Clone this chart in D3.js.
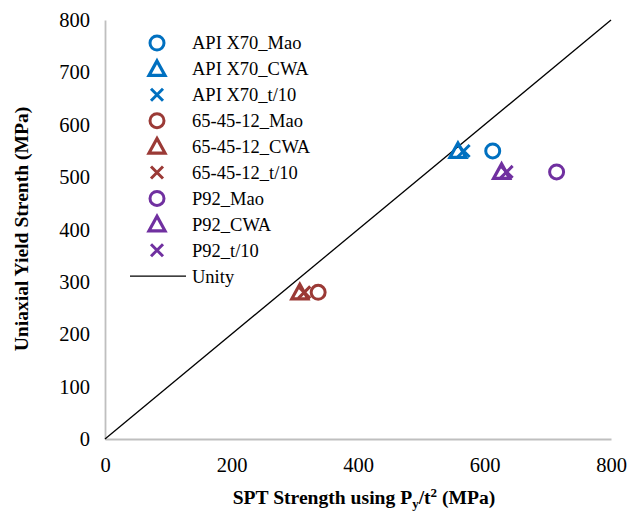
<!DOCTYPE html>
<html><head><meta charset="utf-8">
<script src="https://cdn.jsdelivr.net/npm/d3@7"></script>
<style>body{margin:0;background:#fff}svg text{font-family:"Liberation Serif","Times New Roman",serif}</style>
</head><body><svg id="c" width="630" height="516"></svg>
<script>
const seriesNames = ["API X70_Mao","API X70_CWA","API X70_t/10","65-45-12_Mao","65-45-12_CWA","65-45-12_t/10","P92_Mao","P92_CWA","P92_t/10"];
const seriesX = [613, 558, 567, 337, 308, 315, 714, 627, 635];
const seriesY = [550, 550, 550, 280, 280, 280, 510, 510, 510];
const seriesColor = ["#0070C0","#0070C0","#0070C0","#9B3A36","#9B3A36","#9B3A36","#7030A0","#7030A0","#7030A0"];
const seriesShape = ["circle","triangle","cross","circle","triangle","cross","circle","triangle","cross"];
const unity = [[0,0],[800,800]];
const xTicks = [0,200,400,600,800];
const yTicks = [0,100,200,300,400,500,600,700,800];

const svg = d3.select("#c");
const x = d3.scaleLinear().domain([0,800]).range([105,611]);
const y = d3.scaleLinear().domain([0,800]).range([439,20]);

// axes
const xa = svg.append("g").attr("transform","translate(0,439)")
  .call(d3.axisBottom(x).tickValues(xTicks).tickSize(0).tickPadding(18));
const ya = svg.append("g").attr("transform","translate(105,0)")
  .call(d3.axisLeft(y).tickValues(yTicks).tickSize(0).tickPadding(15));
[xa,ya].forEach(a=>{
  a.select(".domain").attr("stroke","#bfbfbf").attr("stroke-width",1.8);
  a.selectAll("text").attr("font-size",20.5).attr("fill","#000")
   .style("font-family","'Liberation Serif',serif");
});

// unity line
svg.append("path").datum(unity)
  .attr("d", d3.line().x(d=>x(d[0])).y(d=>y(d[1])))
  .attr("stroke","#000").attr("stroke-width",1.3).attr("fill","none");

function drawMarker(g, shape, color){
  if(shape==="circle"){
    g.append("circle").attr("r",7).attr("fill","none").attr("stroke",color).attr("stroke-width",3);
  } else if(shape==="triangle"){
    g.append("path").attr("d","M0,-8L8,6.5L-8,6.5Z").attr("fill","none")
      .attr("stroke",color).attr("stroke-width",3.2).attr("stroke-linejoin","miter");
  } else {
    g.append("path").attr("d","M-6,-6L6,6M-6,6L6,-6").attr("stroke",color).attr("stroke-width",3);
  }
}

// points
seriesNames.forEach((n,i)=>{
  const g = svg.append("g").attr("transform",`translate(${x(seriesX[i])},${y(seriesY[i])})`);
  drawMarker(g, seriesShape[i], seriesColor[i]);
});

// legend
const ly0 = 43, lstep = 25.9;
seriesNames.forEach((n,i)=>{
  const g = svg.append("g").attr("transform",`translate(157,${ly0+i*lstep})`);
  drawMarker(g, seriesShape[i], seriesColor[i]);
  svg.append("text").attr("x",192).attr("y",ly0+i*lstep).attr("dy","0.35em")
    .attr("font-size",18.5).text(n);
});
const uy = ly0+9*lstep;
svg.append("line").attr("x1",130).attr("x2",186).attr("y1",uy).attr("y2",uy)
  .attr("stroke","#000").attr("stroke-width",1.3);
svg.append("text").attr("x",192).attr("y",uy).attr("dy","0.35em").attr("font-size",18.5).text("Unity");

// axis titles
const xt = svg.append("text").attr("x",364).attr("y",504).attr("text-anchor","middle")
  .attr("font-size",19.6).attr("font-weight","bold");
xt.append("tspan").text("SPT Strength using P");
xt.append("tspan").attr("font-size",13).attr("dy",4).text("y");
xt.append("tspan").attr("dy",-4).text("/t");
xt.append("tspan").attr("font-size",13).attr("dy",-7).text("2");
xt.append("tspan").attr("dy",7).text(" (MPa)");

svg.append("text").attr("transform","translate(28,229) rotate(-90)").attr("text-anchor","middle")
  .attr("font-size",19.6).attr("font-weight","bold").text("Uniaxial Yield Strenth (MPa)");
</script></body></html>
